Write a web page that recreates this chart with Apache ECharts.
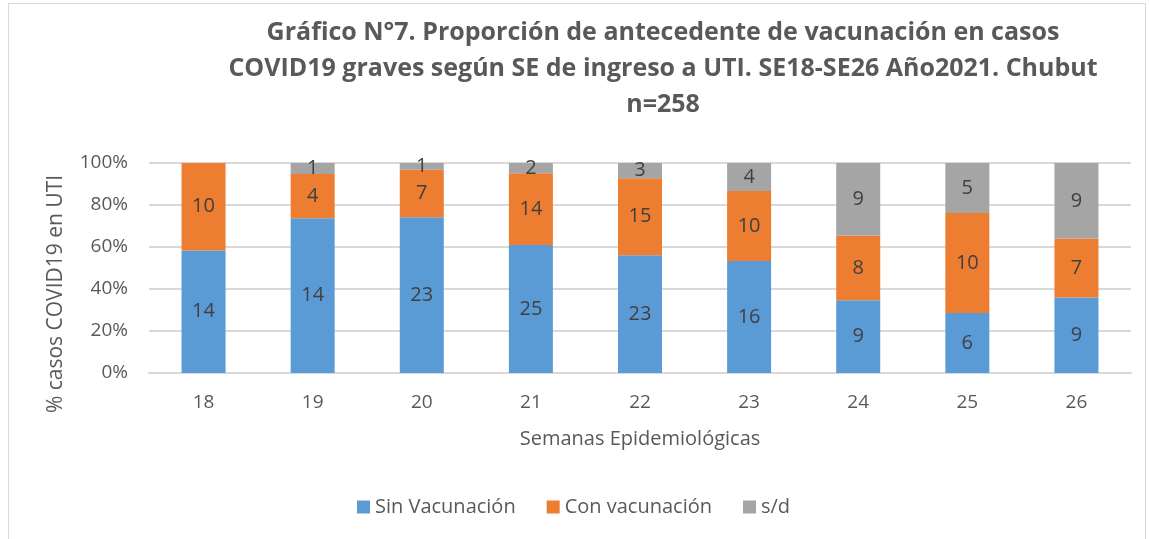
<!DOCTYPE html>
<html>
<head>
<meta charset="utf-8">
<script src="https://cdn.jsdelivr.net/npm/echarts@6/dist/echarts.min.js"></script>
<style>
  html, body { margin: 0; padding: 0; background: #fff; }
  #frame { position: absolute; left: 8px; top: 3px; width: 1138px; height: 540px; border: 1px solid #d9d9d9; box-sizing: border-box; }
  #main { width: 1149px; height: 539px; }
</style>
</head>
<body>
<div id="frame"></div>
<div id="main"></div>
<script>
// semanas epidemiologicas
let semanas = ['18', '19', '20', '21', '22', '23', '24', '25', '26']
let sinVacunacion = [14, 14, 23, 25, 23, 16, 9, 6, 9]
let conVacunacion = [10, 4, 7, 14, 15, 10, 8, 10, 7]
let sinDato = [0, 1, 1, 2, 3, 4, 9, 5, 9]
let yTicks = [0, 20, 40, 60, 80, 100]

let totales = semanas.map((s, i) => sinVacunacion[i] + conVacunacion[i] + sinDato[i])

function pct(arr) {
	return arr.map((v, i) => ({ value: v / totales[i] * 100, n: v }))
}

let fuente = 'Open Sans'

function serie(name, arr, color) {
	return {
		name: name,
		type: 'bar',
		stack: 'total',
		barWidth: 44,
		data: pct(arr),
		itemStyle: { color: color },
		label: {
			show: true,
			position: 'inside',
			color: '#404040',
			fontSize: 20,
			fontFamily: fuente,
			formatter: p => p.data.n > 0 ? p.data.n : ''
		}
	}
}

var myChart = echarts.init(document.getElementById('main'))

var option = {
	animation: false,
	title: {
		text: 'Gráfico N°7. Proporción de antecedente de vacunación en casos\nCOVID19 graves según SE de ingreso a UTI. SE18-SE26 Año2021. Chubut\nn=258',
		left: 658,
		top: 10,
		textAlign: 'center',
		textStyle: {
			fontFamily: fuente,
			fontWeight: 'bold',
			fontSize: 25,
			lineHeight: 36,
			color: '#595959'
		}
	},
	legend: {
		top: 492,
		left: 352,
		itemWidth: 13,
		itemHeight: 13,
		itemGap: 31,
		itemTextGap: 6,
		icon: 'rect',
		textStyle: { fontFamily: fuente, fontSize: 20, color: '#595959' },
		data: ['Sin Vacunación', 'Con vacunación', 's/d']
	},
	graphic: [{
		type: 'text',
		x: 56,
		y: 294,
		rotation: Math.PI / 2,
		style: {
			text: '% casos COVID19 en UTI',
			fontFamily: fuente,
			fontSize: 21,
			fill: '#595959',
			align: 'center',
			verticalAlign: 'middle'
		}
	}],
	grid: { left: 149, right: 18, top: 163, bottom: 166 },
	xAxis: {
		type: 'category',
		data: semanas,
		name: 'Semanas Epidemiológicas',
		nameLocation: 'middle',
		nameGap: 56,
		nameTextStyle: { fontFamily: fuente, fontSize: 20, color: '#595959' },
		axisTick: { show: false },
		axisLine: { lineStyle: { color: '#d9d9d9', width: 2 } },
		axisLabel: { fontFamily: fuente, fontSize: 19, color: '#595959', margin: 20 }
	},
	yAxis: {
		type: 'value',
		min: yTicks[0],
		max: yTicks[yTicks.length - 1],
		interval: 20,
		axisLine: { show: false },
		axisTick: { show: false },
		splitLine: { lineStyle: { color: '#d9d9d9', width: 2 } },
		axisLabel: { fontFamily: fuente, fontSize: 19, color: '#595959', margin: 21, formatter: '{value}%' }
	},
	series: [
		serie('Sin Vacunación', sinVacunacion, '#5b9bd5'),
		serie('Con vacunación', conVacunacion, '#ed7d31'),
		serie('s/d', sinDato, '#a5a5a5')
	]
}

myChart.setOption(option)
</script>
</body>
</html>
